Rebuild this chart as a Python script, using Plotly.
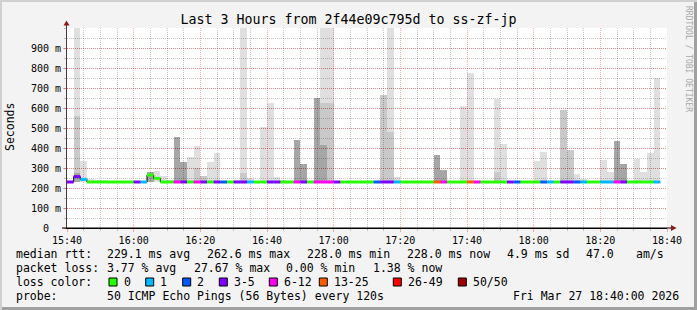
import plotly.graph_objects as go
from datetime import datetime, timedelta

# ---------------- data ----------------
start_time = datetime(2026, 3, 27, 15, 40)
end_time = datetime(2026, 3, 27, 18, 40)
step_seconds = 120
N = None

median_ms = [
    230, 257, 243, 230, 230, 230, 230, 230, 230, 230,
    230, 230, 265, 248, 230, 230, 230, 230, 230, 230,
    230, 230, 230, 230, 230, 230, 230, 230, 230, 230,
    230, 230, 230, 230, 230, 230, 230, 230, 230, 230,
    230, 230, 230, 230, 230, 230, 230, 230, 230, 230,
    230, 230, 230, 230, 230, 230, 230, 230, 230, 230,
    230, 230, 230, 230, 230, 230, 230, 230, 230, 230,
    230, 230, 230, 230, 230, 230, 230, 230, 230, 230,
    230, 230, 230, 230, 230, 230, 230, 230, 230,
]

loss_bin = [
    '3-5', '3-5', '1', '0', '0', '0', '0', '0', '0', '0',
    '3-5', '1', '0', '0', '0', '0', '6-12', '3-5', '0', '6-12',
    '3-5', '0', '3-5', '2', '0', '3-5', '3-5', '1', '0', '0',
    '3-5', '3-5', '0', '0', '6-12', '3-5', '0', '6-12', '6-12', '6-12',
    '3-5', '0', '0', '0', '0', '0', '2', '3-5', '3-5', '1',
    '0', '0', '0', '0', '0', '13-25', '6-12', '0', '0', '0',
    '13-25', '6-12', '0', '0', '0', '0', '3-5', '2', '0', '0',
    '0', '2', '1', '0', '3-5', '3-5', '2', '1', '0', '0',
    '1', '1', '6-12', '3-5', '0', '0', '0', '0', '1',
]

# smoke: upper extent of the outer (sparse), middle and inner (dense) ping bands, ms
smoke_light = [
    N, 1200, 335, 245, 240, 238, N, N, N, N,
    N, N, N, 285, 260, 240, N, N, 353, 410,
    N, 330, 375, N, N, 240, 1200, 250, N, 505,
    625, 257, 240, N, N, N, N, N, 1200, 1200,
    N, N, N, N, N, N, N, N, 1200, 255,
    N, N, N, N, N, N, N, N, N, 610,
    775, N, N, N, 647, 420, N, N, N, N,
    337, 380, N, N, N, N, 270, 245, N, N,
    340, 280, N, N, N, 345, 280, 375, 750,
]
smoke_mid = [
    N, 560, N, N, N, N, N, N, N, N,
    N, N, N, N, N, N, N, N, N, 302,
    260, N, N, N, N, N, 276, N, N, N,
    N, N, N, N, N, N, N, N, 625, 625,
    N, N, N, N, N, N, N, 665, 482, N,
    N, N, N, N, N, N, N, N, N, N,
    N, N, N, N, 282, N, N, N, N, N,
    N, N, N, N, 590, 390, N, N, N, N,
    N, N, N, N, N, N, N, N, N,
]
smoke_dark = [
    N, 275, N, N, N, N, N, N, N, N,
    N, N, 280, N, N, N, 455, 332, N, N,
    N, N, N, N, N, N, N, N, N, N,
    N, N, N, N, 440, 320, N, 650, 415, N,
    N, N, N, N, N, N, N, N, N, N,
    N, N, N, N, N, 365, 290, N, N, N,
    N, N, N, N, N, N, N, N, N, N,
    N, N, N, N, N, N, N, N, N, N,
    N, N, 435, 320, N, N, N, N, N,
]
rtt_min_ms = 228.0

y_tick_vals = [0, 100, 200, 300, 400, 500, 600, 700, 800, 900]
y_tick_text = ['0\u00a0\u00a0', '100 m', '200 m', '300 m', '400 m', '500 m',
               '600 m', '700 m', '800 m', '900 m']

loss_bins = ['0', '1', '2', '3-5', '6-12', '13-25', '26-49', '50/50']
loss_colors = ['#26ff00', '#00b8ff', '#0059ff', '#7e00ff', '#ff00ee', '#ff5e00', '#ff0000', '#a10000']

title_text = 'Last 3 Hours from 2f44e09c795d to ss-zf-jp'
median_stats = ['229.1 ms avg', '262.6 ms max', '228.0 ms min', '228.0 ms now', '4.9 ms sd', '47.0', 'am/s']
loss_stats = ['3.77 % avg', '27.67 % max', '0.00 % min', '1.38 % now']
probe_text = '50 ICMP Echo Pings (56 Bytes) every 120s'
stamp_text = 'Fri Mar 27 18:40:00 2026'

# ---------------- geometry helpers ----------------
W, H = 697, 310
PL, PR, PT, PB = 67, 667, 28, 228


def xp(px):
    return (px - PL) / (PR - PL)


def yp(py):
    return (PB - py) / (PB - PT)


n = len(median_ms)
step = timedelta(seconds=step_seconds)
starts = [start_time + i * step for i in range(n)]
centers = [s + step / 2 for s in starts]
width_ms = step_seconds * 1000

fig = go.Figure()

# smoke bands (non-overlapping segments)
seg = {'light': ([], []), 'mid': ([], []), 'dark': ([], [])}
for i in range(n):
    lo = rtt_min_ms
    d, m, l = smoke_dark[i], smoke_mid[i], smoke_light[i]
    if d is not None:
        seg['dark'][0].append(lo)
        seg['dark'][1].append(d - lo)
    else:
        seg['dark'][0].append(None)
        seg['dark'][1].append(None)
    b = max([v for v in (lo, d) if v is not None])
    if m is not None and m > b:
        seg['mid'][0].append(b)
        seg['mid'][1].append(m - b)
    else:
        seg['mid'][0].append(None)
        seg['mid'][1].append(None)
    b2 = max([v for v in (lo, d, m) if v is not None])
    if l is not None and l > b2:
        seg['light'][0].append(b2)
        seg['light'][1].append(l - b2)
    else:
        seg['light'][0].append(None)
        seg['light'][1].append(None)

smoke_fill = {'light': 'rgba(0,0,0,0.125)', 'mid': 'rgba(0,0,0,0.21)', 'dark': 'rgba(0,0,0,0.35)'}
for key in ['light', 'mid', 'dark']:
    bases, heights = seg[key]
    fig.add_trace(go.Bar(
        x=centers, y=heights, base=bases, width=[width_ms] * n,
        marker=dict(color=smoke_fill[key], line=dict(width=0)),
        showlegend=False, hoverinfo='skip'))

# black step outline of the median
fig.add_trace(go.Scatter(
    x=starts + [starts[-1] + step], y=median_ms + [median_ms[-1]],
    mode='lines', line=dict(color='#000000', width=1, shape='hv'),
    showlegend=False, hoverinfo='skip'))

# colored median segments by loss
for b, c in zip(loss_bins, loss_colors):
    xs, ys = [], []
    for i in range(n):
        if loss_bin[i] == b:
            xs += [starts[i], starts[i] + step, None]
            ys += [median_ms[i], median_ms[i], None]
    if xs:
        fig.add_trace(go.Scatter(x=xs, y=ys, mode='lines',
                                 line=dict(color=c, width=3),
                                 showlegend=False, hoverinfo='skip'))

FONT = 'DejaVu Sans Mono'
red_grid = 'rgba(255,0,0,0.32)'
grey_grid = 'rgba(0,0,0,0.22)'

fig.update_layout(
    width=W, height=H, autosize=False,
    margin=dict(l=PL, r=W - PR, t=PT, b=H - PB, pad=0),
    paper_bgcolor='#f3f3f3', plot_bgcolor='#ffffff',
    barmode='overlay', bargap=0,
    font=dict(family=FONT, size=10, color='#000000'),
    title=dict(text=title_text, x=0.5, xanchor='center', xref='container',
               y=1 - 19 / H, yanchor='middle', yref='container',
               font=dict(family=FONT, size=13.3, color='#000000')),
    xaxis=dict(type='date', range=[start_time, end_time],
               tick0=start_time, dtick=20 * 60 * 1000, tickformat='%H:%M',
               showgrid=True, gridcolor=red_grid, griddash='1px,1px', gridwidth=1,
               ticks='outside', ticklen=3, tickcolor=red_grid,
               showline=True, linecolor='#000000', linewidth=1,
               zeroline=False, tickfont=dict(family=FONT, size=10),
               minor=dict(dtick=5 * 60 * 1000, tick0=start_time, showgrid=True,
                          gridcolor=grey_grid, griddash='1px,1px', gridwidth=1,
                          ticks='outside', ticklen=2, tickcolor=grey_grid),
               fixedrange=True),
    yaxis=dict(range=[0, 1000], tickmode='array', tickvals=y_tick_vals, ticktext=y_tick_text,
               showgrid=True, gridcolor=red_grid, griddash='1px,1px', gridwidth=1,
               ticks='outside', ticklen=3, tickcolor=red_grid,
               showline=True, linecolor='#4a3a3a', linewidth=1,
               zeroline=False, tickfont=dict(family=FONT, size=10),
               minor=dict(tickmode='linear', tick0=0, dtick=50, showgrid=True,
                          gridcolor=grey_grid, griddash='1px,1px', gridwidth=1,
                          ticks='outside', ticklen=2, tickcolor=grey_grid),
               fixedrange=True),
)

shapes = []
annotations = []

# axis extensions and arrows
shapes.append(dict(type='line', xref='paper', yref='paper', x0=xp(66.5), x1=xp(66.5),
                   y0=yp(228), y1=yp(23), line=dict(color='#4a3a3a', width=1)))
shapes.append(dict(type='line', xref='paper', yref='paper', x0=xp(62), x1=xp(672),
                   y0=yp(228), y1=yp(228), line=dict(color='#000000', width=1)))
shapes.append(dict(type='path', xref='paper', yref='paper',
                   path=f'M {xp(63.5)} {yp(25.5)} L {xp(69.5)} {yp(25.5)} L {xp(66.5)} {yp(20.5)} Z',
                   fillcolor='#8b1a1a', line=dict(width=0)))
shapes.append(dict(type='path', xref='paper', yref='paper',
                   path=f'M {xp(671)} {yp(225)} L {xp(671)} {yp(231)} L {xp(676.5)} {yp(228)} Z',
                   fillcolor='#8b1a1a', line=dict(width=0)))

# frame edges
shapes.append(dict(type='rect', xref='paper', yref='paper', x0=xp(0), x1=xp(697),
                   y0=yp(307), y1=yp(310), fillcolor='#a0a0a0', line=dict(width=0), layer='below'))
shapes.append(dict(type='rect', xref='paper', yref='paper', x0=xp(694), x1=xp(697),
                   y0=yp(0), y1=yp(310), fillcolor='#a0a0a0', line=dict(width=0), layer='below'))
shapes.append(dict(type='rect', xref='paper', yref='paper', x0=xp(0), x1=xp(697),
                   y0=yp(0), y1=yp(2), fillcolor='#d0d0d0', line=dict(width=0), layer='below'))
shapes.append(dict(type='rect', xref='paper', yref='paper', x0=xp(0), x1=xp(2),
                   y0=yp(0), y1=yp(310), fillcolor='#d0d0d0', line=dict(width=0), layer='below'))


def text(t, x, y, size=11.5, color='#000000', anchor='left', angle=0):
    annotations.append(dict(text=t, xref='paper', yref='paper', x=xp(x), y=yp(y),
                            xanchor=anchor, yanchor='middle', showarrow=False,
                            textangle=angle, borderpad=0, borderwidth=0,
                            font=dict(family=FONT, size=size, color=color)))


# y axis title and watermark
text('Seconds', 10, 127, size=11.5, anchor='center', angle=-90)
text('RRDTOOL / TOBI OETIKER', 689, 59, size=8, color='#a8a8a8', anchor='center', angle=90)

# legend lines
text('median rtt:', 16, 254)
for t, x in zip(median_stats, [107, 207, 307, 407, 507, 586, 636]):
    text(t, x, 254)
text('packet loss:', 16, 268)
for t, x in zip(loss_stats, [107, 194, 286, 373]):
    text(t, x, 268)
text('loss color:', 16, 282)
box_x = [109, 145.7, 182.7, 219.3, 269.3, 319.3, 393.3, 458.3]
for b, c, bx in zip(loss_bins, loss_colors, box_x):
    shapes.append(dict(type='rect', xref='paper', yref='paper', x0=xp(bx), x1=xp(bx + 8),
                       y0=yp(286), y1=yp(278), fillcolor=c, line=dict(color='#000000', width=1)))
    text(b, bx + 14.5, 282)
text('probe:', 16, 296)
text(probe_text, 107, 296)
text(stamp_text, 513, 296)

fig.update_layout(shapes=shapes, annotations=annotations)
fig.write_html('out.html')
